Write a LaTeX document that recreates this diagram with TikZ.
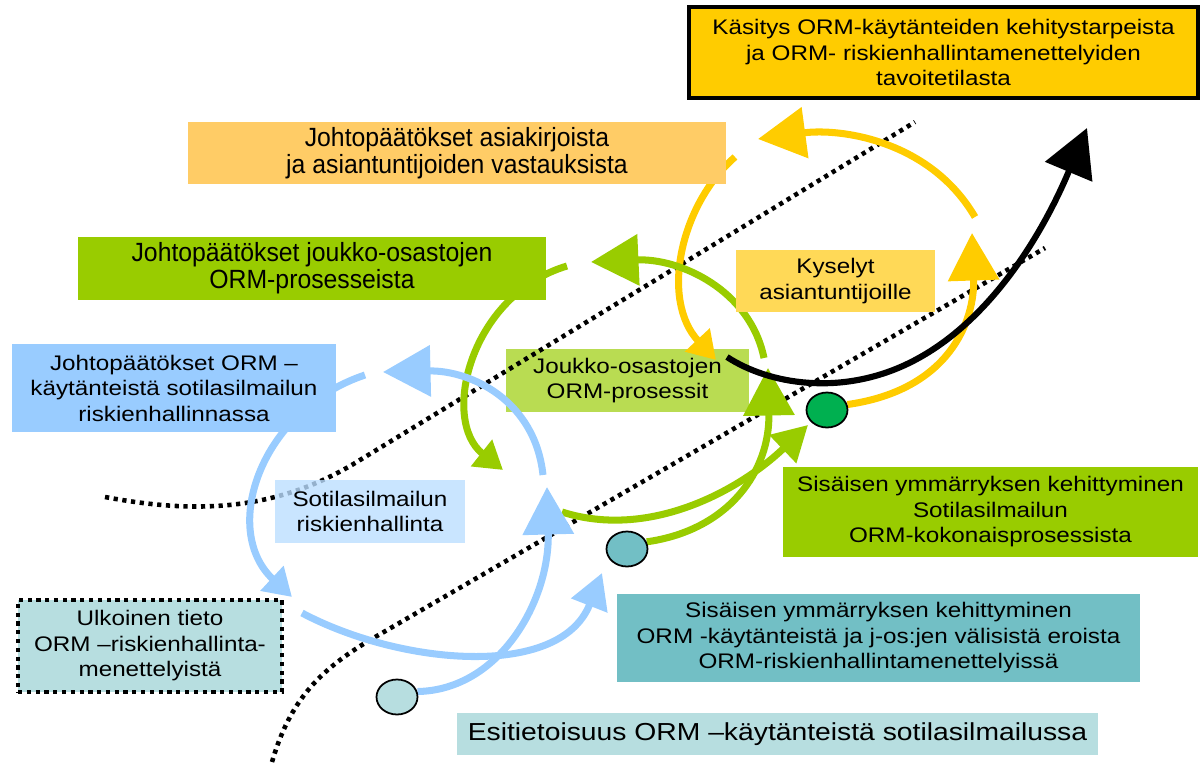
\documentclass[tikz,border=0pt]{standalone}
\usepackage{fontspec}
\setmainfont{Liberation Sans}[FakeStretch=1.15]
\newfontfamily\narrowfont{Liberation Sans}[FakeStretch=0.94]
\usetikzlibrary{arrows.meta,shapes.geometric}

\definecolor{gold}{HTML}{FFCC00}
\definecolor{peach}{HTML}{FFCC66}
\definecolor{leaf}{HTML}{99CC00}
\definecolor{lightleaf}{HTML}{B9DC52}
\definecolor{sand}{HTML}{FFD957}
\definecolor{sky}{HTML}{99CCFF}
\definecolor{paleSky}{HTML}{BBDEFF}
\definecolor{teal}{HTML}{72BFC5}
\definecolor{paleteal}{HTML}{B7DEE0}
\definecolor{darkleaf}{HTML}{00B050}

\pgfdeclarelayer{back}
\pgfdeclarelayer{arrows}
\pgfsetlayers{back,arrows,main}

\tikzset{
  box/.style={rectangle, inner sep=0pt, align=center, font=\fontsize{12}{14.5}\selectfont},
  narrowbox/.style={box, font=\narrowfont\fontsize{15}{15.5}\selectfont},
  knot/.style={ellipse, draw, line width=1pt, minimum width=0.82cm, minimum height=0.7cm, inner sep=0pt},
  flow/.style={line width=4pt},
  bigtip/.style={-{Triangle[length=0.95cm,width=1.0cm]}},
  midtip/.style={-{Triangle[length=0.7cm,width=0.75cm]}},
  smalltip/.style={-{Triangle[length=0.55cm,width=0.65cm]}},
  border/.style={line width=2.6pt, dash pattern=on 2.4pt off 2.6pt}
}

\begin{document}
\begin{tikzpicture}[x=0.02cm, y=-0.02cm]
\useasboundingbox (0,0) rectangle (1201,764);

\begin{pgfonlayer}{back}
\node[box, fill=lightleaf, minimum width=4.86cm, minimum height=1.26cm] (joukkoproc) at (627.5,380.5) {Joukko-osastojen\\ORM-prosessit};
% rajalinjat
\draw[border] (105,497) .. controls (200,515) and (280,510) .. (360,460) -- (915,122);
\draw[border] (272,762) .. controls (290,700) and (320,670) .. (370,640) -- (1045,248);
\node[box, fill=paleSky, fill opacity=0.8, text opacity=1, minimum width=3.8cm, minimum height=1.26cm] (sotriski) at (370,511.5) {Sotilasilmailun\\riskienhallinta};
\end{pgfonlayer}

% laatikot
\node[box, fill=gold, draw, line width=2pt, minimum width=10.18cm, minimum height=1.82cm] (kasitys) at (943.5,52.5) {Käsitys ORM-käytänteiden kehitystarpeista\\ja ORM- riskienhallintamenettelyiden\\tavoitetilasta};
\node[narrowbox, fill=peach, minimum width=10.76cm, minimum height=1.24cm] (johtoasiak) at (457,153) {Johtopäätökset asiakirjoista\\ja asiantuntijoiden vastauksista};
\node[narrowbox, fill=leaf, minimum width=9.36cm, minimum height=1.26cm] (johtojoukko) at (312,268.5) {Johtopäätökset joukko-osastojen\\ORM-prosesseista};
\node[box, fill=sand, minimum width=3.98cm, minimum height=1.24cm] (kyselyt) at (835.5,281) {Kyselyt\\asiantuntijoille};
\node[box, fill=sky, minimum width=6.48cm, minimum height=1.76cm] (johtoorm) at (174,388) {Johtopäätökset ORM --\\käytänteistä sotilasilmailun\\riskienhallinnassa};
\node[box, fill=leaf, minimum width=8.3cm, minimum height=1.8cm] (sisainen1) at (990.5,512) {Sisäisen ymmärryksen kehittyminen\\Sotilasilmailun\\ORM-kokonaisprosessista};
\node[box, fill=teal, minimum width=10.46cm, minimum height=1.76cm] (sisainen2) at (878.5,638) {Sisäisen ymmärryksen kehittyminen\\ORM -käytänteistä ja j-os:jen välisistä eroista\\ORM-riskienhallintamenettelyissä};
\node[box, fill=paleteal, minimum width=12.82cm, minimum height=0.84cm, font=\fontsize{14}{16}\selectfont] (esitieto) at (777.5,734) {Esitietoisuus ORM --käytänteistä sotilasilmailussa};
\node[box, fill=paleteal, draw, border, minimum width=5.28cm, minimum height=1.84cm] (ulkoinen) at (150,646) {Ulkoinen tieto\\ORM --riskienhallinta-\\menettelyistä};

% pallot
\node[knot, fill=paleteal] (c1) at (397,697) {};
\node[knot, fill=teal] (c2) at (627,549) {};
\node[knot, fill=darkleaf] (c3) at (827,410) {};

% nuolten päät
\coordinate (y1a) at (735,157);
\coordinate (y1b) at (716,360);
\coordinate (y2a) at (975,217);
\coordinate (y2b) at (758,139);
\coordinate (y3b) at (972,233);
\coordinate (ka) at (727,357);
\coordinate (kb) at (1087,128);
\coordinate (g1a) at (567,266);
\coordinate (g1b) at (503,470);
\coordinate (g2a) at (764,358);
\coordinate (g2b) at (591,262);
\coordinate (g3b) at (768,368);
\coordinate (g4a) at (562,512);
\coordinate (g4b) at (808,425);
\coordinate (b1a) at (365,375);
\coordinate (b1b) at (292,597);
\coordinate (b2a) at (543,475);
\coordinate (b2b) at (383,372);
\coordinate (b3b) at (547,487);
\coordinate (b4a) at (302,613);
\coordinate (b4b) at (602,573);

\begin{pgfonlayer}{arrows}
% keltainen kierros
\draw[flow, gold, smalltip] (y1a) .. controls (680,205) and (660,300) .. (y1b);
\draw[flow, gold, bigtip] (y2a) .. controls (930,140) and (840,128) .. (y2b);
\draw[flow, gold, bigtip] (c3.15) .. controls (950,390) and (975,320) .. (y3b);
% vihreä kierros
\draw[flow, leaf, smalltip] (g1a) .. controls (470,295) and (440,420) .. (g1b);
\draw[flow, leaf, bigtip] (g2a) .. controls (750,290) and (680,258) .. (g2b);
\draw[flow, leaf, bigtip] (c2.20) .. controls (730,530) and (770,470) .. (g3b);
\draw[flow, leaf, midtip] (g4a) .. controls (650,540) and (740,490) .. (g4b);
% sininen kierros
\draw[flow, sky, smalltip] (b1a) .. controls (260,410) and (220,530) .. (b1b);
\draw[flow, sky, bigtip] (b2a) .. controls (535,400) and (470,370) .. (b2b);
\draw[flow, sky, bigtip] (c1.15) .. controls (500,690) and (550,600) .. (b3b);
\draw[flow, sky, midtip] (b4a) .. controls (400,665) and (560,680) .. (b4b);
% kehityskaari
\draw[line width=3.5pt, bigtip] (ka) .. controls (770,385) and (840,395) .. (905,365) .. controls (985,328) and (1040,240) .. (kb);
\end{pgfonlayer}
\end{tikzpicture}
\end{document}
